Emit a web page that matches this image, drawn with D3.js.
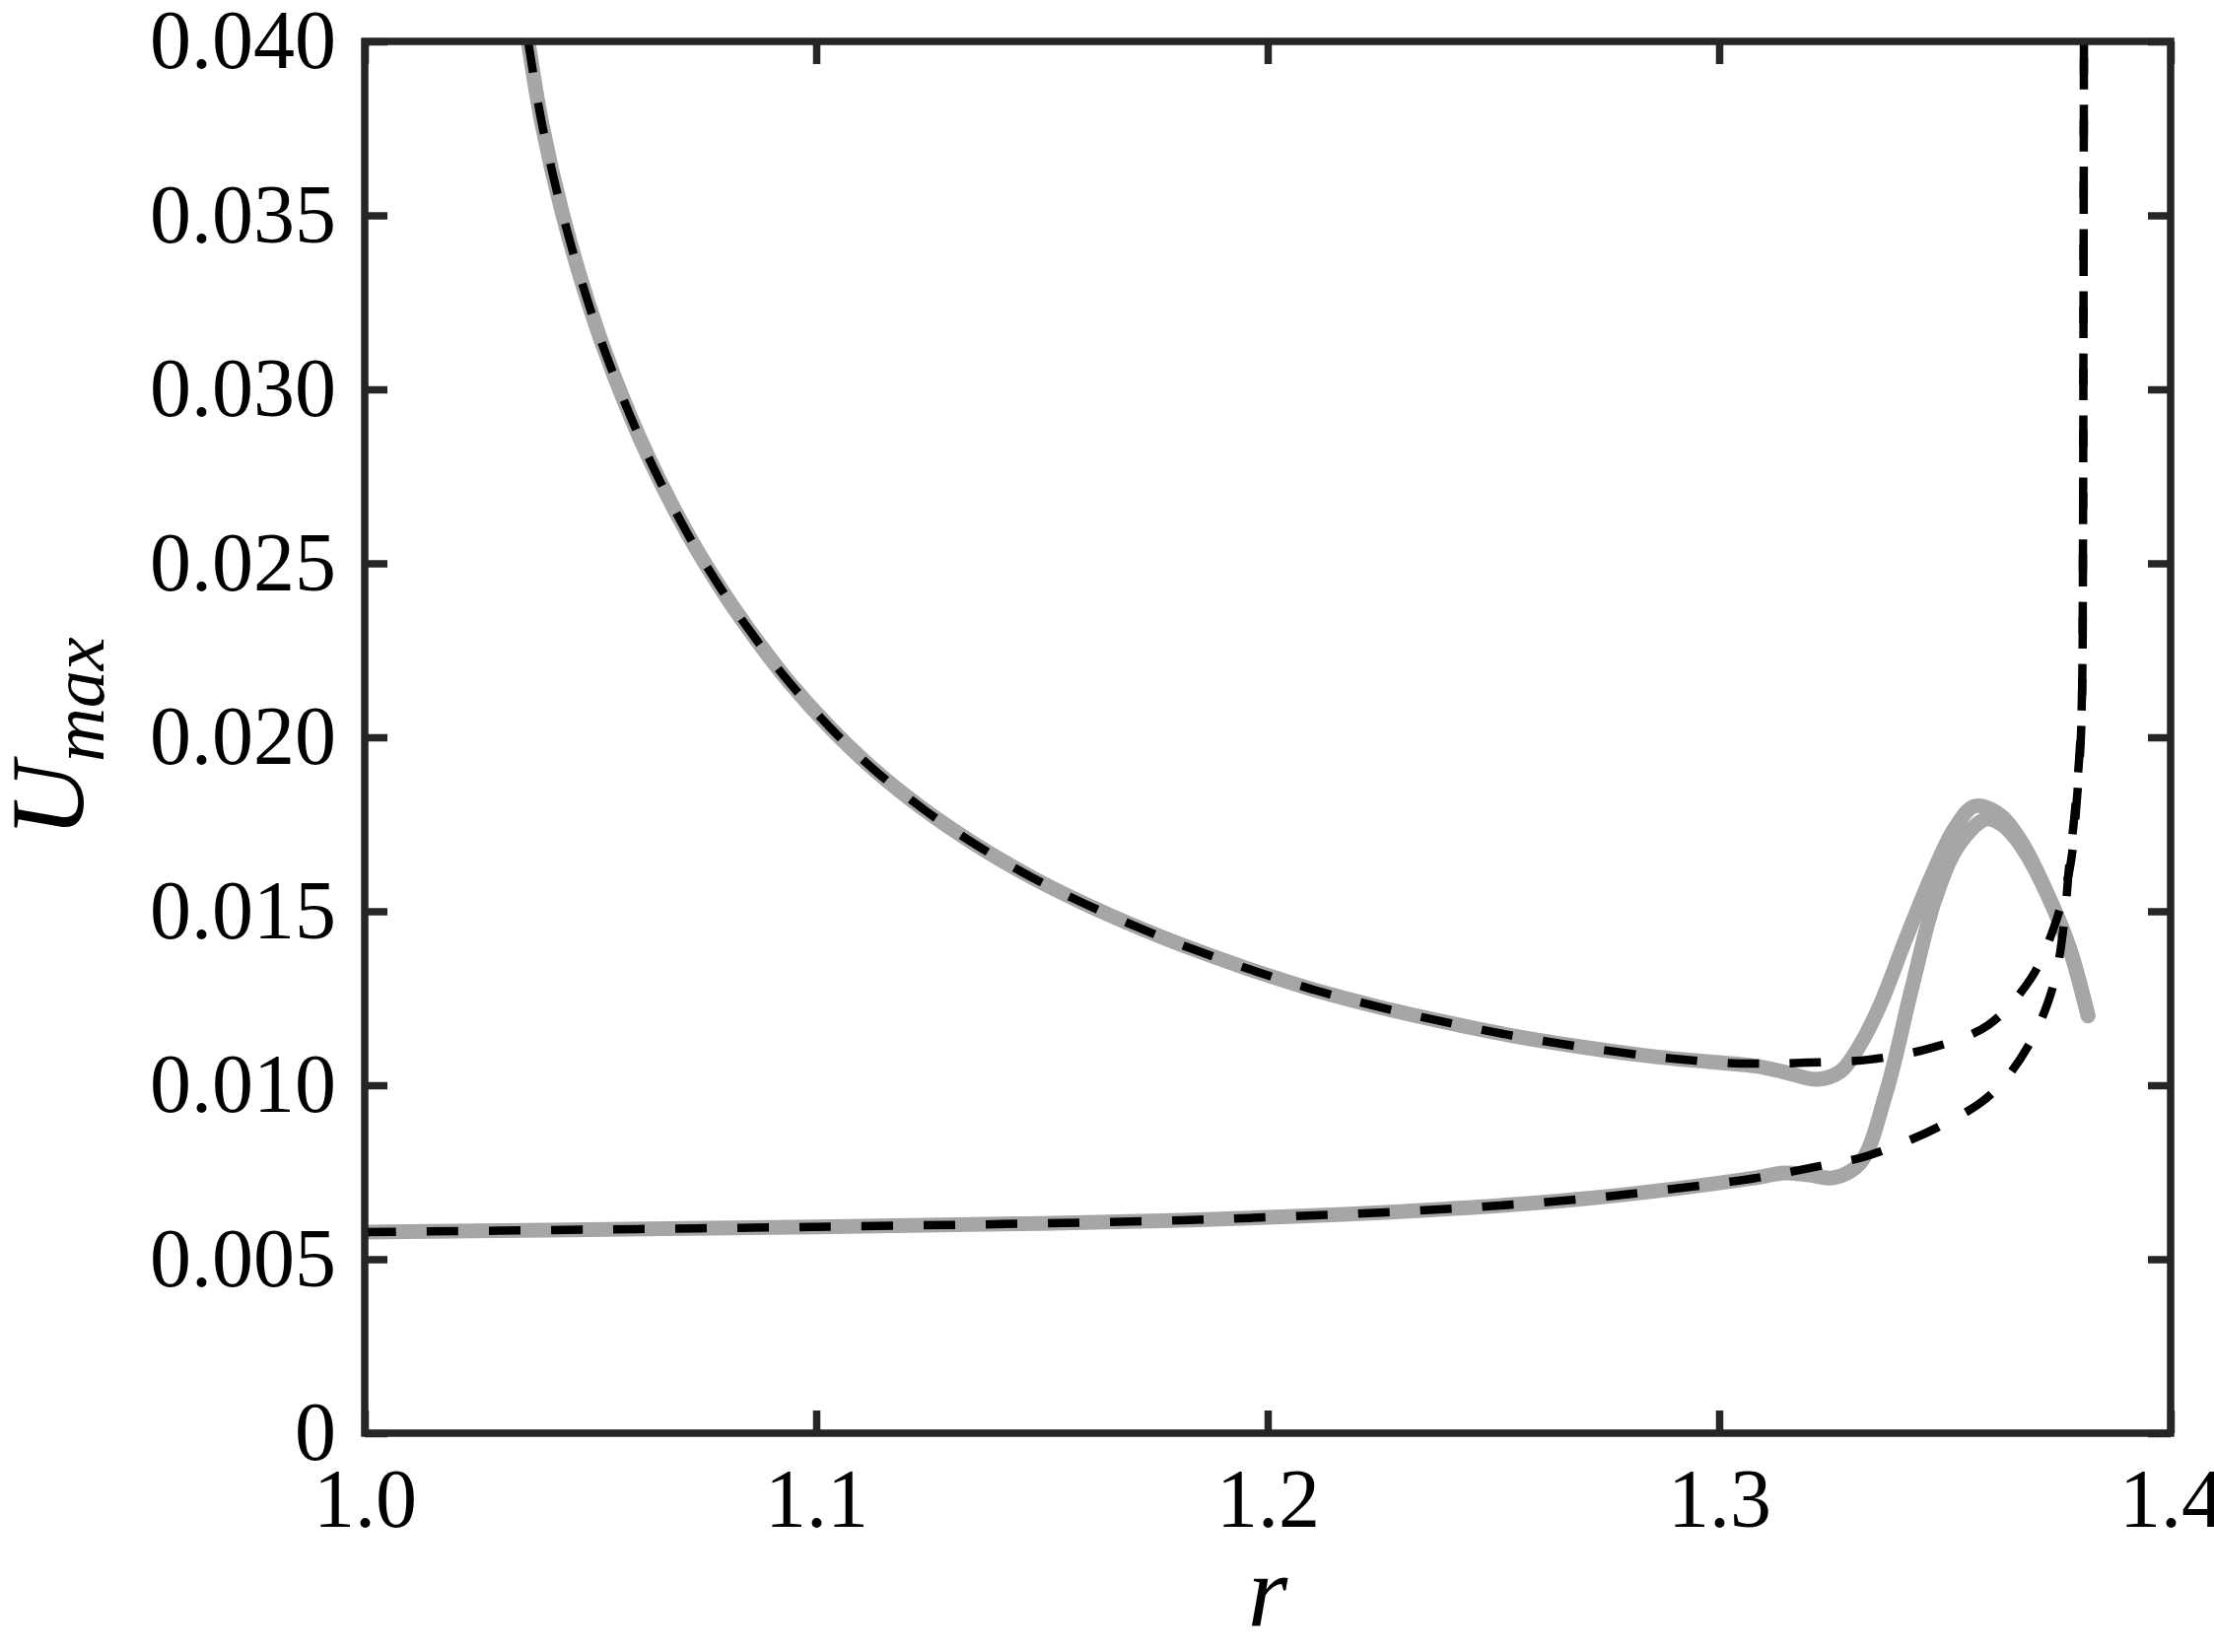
<!DOCTYPE html>
<html>
<head>
<meta charset="utf-8">
<script src="https://cdn.jsdelivr.net/npm/d3@7"></script>
<style>
  body { margin: 0; background: #fff; }
  text { font-family: "Liberation Serif", "Times New Roman", serif; fill: #000; }
</style>
</head>
<body>
<div id="chart"></div>
<script>
// define dimensions
var svgWidth = 2246;
var svgHeight = 1676;

var margin = {
  top: 42,
  right: 44,
  bottom: 222,
  left: 370
};

var width = svgWidth - margin.left - margin.right;
var height = svgHeight - margin.top - margin.bottom;

// tick values
var xTicks = [1.0, 1.1, 1.2, 1.3, 1.4];
var xTickLabels = ["1.0", "1.1", "1.2", "1.3", "1.4"];
var yTicks = [0, 0.005, 0.010, 0.015, 0.020, 0.025, 0.030, 0.035, 0.040];
var yTickLabels = ["0", "0.005", "0.010", "0.015", "0.020", "0.025", "0.030", "0.035", "0.040"];

// upper branch, common part of the grey and the dashed curve  [r, Umax]
var upperCommon = [
  [1.0362, 0.0400], [1.0393, 0.0376], [1.0437, 0.0351], [1.0496, 0.03245],
  [1.0552, 0.0304], [1.0627, 0.02809], [1.0716, 0.02583], [1.0793, 0.02419],
  [1.0867, 0.02281], [1.0939, 0.0216], [1.1033, 0.02025], [1.1129, 0.01906],
  [1.1238, 0.01793], [1.1354, 0.01691], [1.1478, 0.01597], [1.1594, 0.01522],
  [1.1725, 0.01447], [1.1812, 0.01402], [1.1958, 0.01334], [1.2103, 0.01274],
  [1.2249, 0.01224], [1.2395, 0.01181], [1.2540, 0.01143], [1.2686, 0.01112],
  [1.2832, 0.01086], [1.2904, 0.01076], [1.3000, 0.01065]
];

// lower branch, common part
var lowerCommon = [
  [1.0000, 0.00578], [1.0500, 0.00585], [1.1000, 0.00593], [1.1500, 0.00603],
  [1.1812, 0.00612], [1.2031, 0.00622], [1.2249, 0.00634], [1.2467, 0.00650],
  [1.2686, 0.00672], [1.2904, 0.00703]
];

// grey (solid) tails
var upperGreyTail = [
  [1.3085, 0.01054], [1.3144, 0.01038], [1.3217, 0.01017], [1.3269, 0.01040],
  [1.3312, 0.01116], [1.3356, 0.01229], [1.3413, 0.01419], [1.3472, 0.01606],
  [1.3522, 0.01739], [1.3566, 0.01802], [1.3617, 0.01782], [1.3668, 0.01703],
  [1.3740, 0.01513], [1.3777, 0.01391], [1.3817, 0.01201]
];
var lowerGreyTail = [
  [1.3085, 0.00735], [1.3144, 0.00748], [1.3200, 0.00742], [1.3253, 0.00734],
  [1.3312, 0.00776], [1.3369, 0.00975], [1.3428, 0.01286], [1.3478, 0.01533],
  [1.3531, 0.01691], [1.3592, 0.01765], [1.3625, 0.01750], [1.3655, 0.01712],
  [1.3690, 0.01643], [1.3740, 0.01510], [1.3777, 0.01389], [1.3817, 0.01199]
];

// dashed tails
var upperDashTail = [
  [1.3085, 0.01062], [1.3195, 0.01065], [1.3334, 0.01074], [1.3472, 0.01108],
  [1.3596, 0.01173], [1.3690, 0.01306], [1.3740, 0.01448], [1.3777, 0.01626],
  [1.3792, 0.01816], [1.3801, 0.01994], [1.3804, 0.0214], [1.3806, 0.0260],
  [1.3807, 0.0320], [1.3808, 0.0400]
];
var lowerDashTail = [
  [1.3085, 0.00734], [1.3224, 0.00768], [1.3326, 0.00796], [1.3487, 0.00881],
  [1.3603, 0.00975], [1.3686, 0.01116], [1.3740, 0.01286], [1.3763, 0.01456],
  [1.3775, 0.01626], [1.3790, 0.01816], [1.3800, 0.01994], [1.3804, 0.0214],
  [1.3806, 0.0260], [1.3807, 0.0320], [1.3808, 0.0400]
];

var greySeries = [upperCommon.concat(upperGreyTail), lowerCommon.concat(lowerGreyTail)];
var dashSeries = [upperCommon.concat(upperDashTail), lowerCommon.concat(lowerDashTail)];

var axisColor = "#262626";

// define svg
var svg = d3.select("#chart")
    .append("svg")
    .attr("width", svgWidth)
    .attr("height", svgHeight);

svg.append("rect")
    .attr("width", svgWidth)
    .attr("height", svgHeight)
    .attr("fill", "#fff");

var chartGroup = svg.append("g")
    .attr("transform", `translate(${margin.left}, ${margin.top})`);

// scales
var xScale = d3.scaleLinear().domain([1.0, 1.4]).range([0, width]);
var yScale = d3.scaleLinear().domain([0, 0.04]).range([height, 0]);

// clip the curves to the plot box
chartGroup.append("clipPath")
    .attr("id", "plotClip")
    .append("rect")
    .attr("width", width)
    .attr("height", height);

var line = d3.line()
    .x(d => xScale(d[0]))
    .y(d => yScale(d[1]))
    .curve(d3.curveCatmullRom.alpha(0.5));

var curves = chartGroup.append("g").attr("clip-path", "url(#plotClip)");

// grey solid lines first
curves.selectAll(".grey")
    .data(greySeries)
    .enter()
    .append("path")
    .attr("class", "grey")
    .attr("d", line)
    .attr("fill", "none")
    .attr("stroke", "#a6a6a6")
    .attr("stroke-width", 15)
    .attr("stroke-linecap", "round")
    .attr("stroke-linejoin", "round");

// black dashed lines on top
curves.selectAll(".dash")
    .data(dashSeries)
    .enter()
    .append("path")
    .attr("class", "dash")
    .attr("d", line)
    .attr("fill", "none")
    .attr("stroke", "#000")
    .attr("stroke-width", 8.5)
    .attr("stroke-dasharray", "32,31");

// axes with inward ticks on all four sides
var fontSize = 84;

var bottomAxis = d3.axisBottom(xScale)
    .tickValues(xTicks)
    .tickFormat((d, i) => xTickLabels[i])
    .tickSize(-23)
    .tickPadding(35);
var topAxis = d3.axisTop(xScale).tickValues(xTicks).tickFormat("").tickSize(-23);
var leftAxis = d3.axisLeft(yScale)
    .tickValues(yTicks)
    .tickFormat((d, i) => yTickLabels[i])
    .tickSize(-23)
    .tickPadding(29);
var rightAxis = d3.axisRight(yScale).tickValues(yTicks).tickFormat("").tickSize(-23);

function styleAxis(g) {
  g.select(".domain").remove();
  g.selectAll(".tick line")
      .attr("stroke", axisColor)
      .attr("stroke-width", 7.5);
  g.selectAll(".tick text")
      .attr("fill", "#000")
      .style("font-size", fontSize + "px")
      .style("font-family", "'Liberation Serif', 'Times New Roman', serif");
  g.attr("font-family", null).attr("font-size", null);
}

chartGroup.append("g").attr("transform", `translate(0, ${height})`).call(bottomAxis).call(styleAxis);
chartGroup.append("g").call(topAxis).call(styleAxis);
chartGroup.append("g").call(leftAxis).call(styleAxis);
chartGroup.append("g").attr("transform", `translate(${width}, 0)`).call(rightAxis).call(styleAxis);

// frame
chartGroup.append("rect")
    .attr("width", width)
    .attr("height", height)
    .attr("fill", "none")
    .attr("stroke", axisColor)
    .attr("stroke-width", 7.5);

// axis labels
svg.append("text")
    .attr("x", margin.left + width / 2)
    .attr("y", 1650)
    .attr("text-anchor", "middle")
    .style("font-size", "104px")
    .style("font-style", "italic")
    .text("r");

var yLabel = svg.append("text")
    .attr("transform", "translate(84, 748) rotate(-90)")
    .attr("text-anchor", "middle")
    .style("font-size", "106px")
    .style("font-style", "italic");
yLabel.append("tspan").text("U");
yLabel.append("tspan")
    .attr("dy", 21)
    .style("font-size", "76px")
    .text("max");
</script>
</body>
</html>
